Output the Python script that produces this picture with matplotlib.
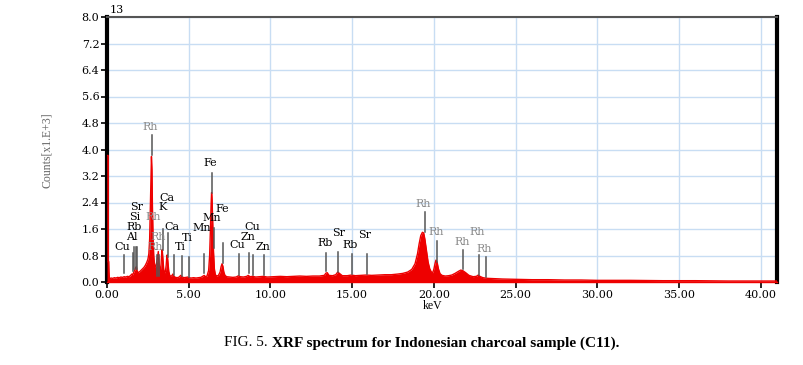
import matplotlib
matplotlib.use("Agg")
import matplotlib.pyplot as plt
import numpy as np

# ---------------- data ----------------
energy_kev = [0.00, 0.07, 0.08, 0.10, 0.12, 0.14, 0.18, 0.25, 0.35, 0.45, 0.55, 0.65, 0.75, 0.85,
              0.95, 1.05, 1.15, 1.25, 1.35, 1.45, 1.52, 1.58, 1.64, 1.70, 1.76, 1.80, 1.84, 1.90,
              1.96, 2.02, 2.10, 2.18, 2.26, 2.34, 2.42, 2.50, 2.56, 2.61, 2.65, 2.69, 2.72, 2.75,
              2.78, 2.82, 2.86, 2.90, 2.95, 3.00, 3.05, 3.10, 3.14, 3.18, 3.22, 3.27, 3.31, 3.35,
              3.38, 3.42, 3.47, 3.52, 3.57, 3.62, 3.66, 3.69, 3.73, 3.78, 3.84, 3.92, 3.98, 4.03,
              4.08, 4.18, 4.30, 4.42, 4.51, 4.58, 4.70, 4.85, 4.93, 5.00, 5.15, 5.30, 5.45, 5.60,
              5.75, 5.88, 5.95, 6.02, 6.12, 6.22, 6.28, 6.33, 6.37, 6.40, 6.43, 6.47, 6.52, 6.57,
              6.63, 6.72, 6.82, 6.92, 6.98, 7.04, 7.09, 7.15, 7.22, 7.32, 7.50, 7.70, 7.90, 8.05,
              8.15, 8.35, 8.55, 8.64, 8.75, 8.92, 9.10, 9.35, 9.57, 9.80, 10.2, 10.6, 11.0, 11.4,
              11.8, 12.2, 12.6, 13.0, 13.3, 13.40, 13.48, 13.58, 13.8, 14.0, 14.12, 14.22, 14.4,
              14.7, 14.95, 15.2, 15.5, 15.85, 16.2, 16.6, 17.0, 17.4, 17.8, 18.1, 18.4, 18.65,
              18.85, 19.0, 19.1, 19.2, 19.3, 19.38, 19.45, 19.55, 19.65, 19.75, 19.85, 19.93,
              20.0, 20.07, 20.13, 20.2, 20.28, 20.38, 20.5, 20.7, 20.9, 21.1, 21.3, 21.5, 21.65,
              21.78, 21.95, 22.15, 22.4, 22.6, 22.72, 22.82, 23.0, 23.3, 23.7, 24.2, 25.0, 26.0,
              27.0, 28.0, 29.0, 30.0, 32.0, 34.0, 36.0, 38.0, 40.0, 41.0]
counts_k = [3.82, 3.82, 0.60, 0.62, 0.30, 0.14, 0.10, 0.12, 0.11, 0.13, 0.12, 0.14, 0.13, 0.15,
            0.14, 0.16, 0.15, 0.17, 0.16, 0.20, 0.24, 0.22, 0.30, 0.36, 0.44, 0.46, 0.34, 0.28,
            0.30, 0.32, 0.36, 0.40, 0.44, 0.50, 0.58, 0.68, 0.85, 1.30, 2.20, 3.20, 3.79, 3.40,
            2.30, 1.30, 0.80, 0.55, 0.45, 0.50, 0.62, 0.80, 0.92, 0.60, 0.38, 0.35, 0.55, 0.90,
            0.98, 0.70, 0.38, 0.28, 0.30, 0.50, 0.78, 0.82, 0.60, 0.32, 0.20, 0.17, 0.20, 0.24,
            0.18, 0.14, 0.13, 0.15, 0.20, 0.16, 0.13, 0.14, 0.15, 0.13, 0.12, 0.13, 0.12, 0.13,
            0.14, 0.18, 0.20, 0.16, 0.18, 0.35, 0.80, 1.60, 2.35, 2.70, 2.50, 1.80, 0.90, 0.40,
            0.22, 0.18, 0.20, 0.30, 0.46, 0.55, 0.48, 0.30, 0.20, 0.16, 0.15, 0.14, 0.15, 0.19,
            0.16, 0.15, 0.17, 0.20, 0.16, 0.17, 0.15, 0.16, 0.17, 0.15, 0.16, 0.17, 0.16, 0.17,
            0.18, 0.17, 0.18, 0.18, 0.20, 0.27, 0.28, 0.20, 0.19, 0.22, 0.30, 0.26, 0.19,
            0.19, 0.21, 0.19, 0.20, 0.21, 0.20, 0.21, 0.22, 0.22, 0.24, 0.26, 0.30, 0.38,
            0.55, 0.85, 1.15, 1.40, 1.50, 1.48, 1.30, 0.95, 0.60, 0.40, 0.30, 0.28,
            0.38, 0.55, 0.66, 0.60, 0.40, 0.25, 0.20, 0.18, 0.19, 0.21, 0.26, 0.32, 0.36,
            0.34, 0.28, 0.20, 0.16, 0.17, 0.21, 0.17, 0.13, 0.11, 0.10, 0.09, 0.08, 0.07,
            0.07, 0.06, 0.06, 0.05, 0.05, 0.04, 0.04, 0.03, 0.03, 0.03]

# element marker lines: energy, bottom, top (counts x1000)
marker_energy = [1.04, 1.57, 1.67, 1.75, 1.81, 2.77, 3.03, 3.18, 3.40, 3.75, 4.10, 4.61, 5.01,
                 5.92, 6.43, 6.53, 7.10, 8.10, 8.67, 8.92, 9.63, 13.43, 14.13, 15.02, 15.92,
                 19.47, 20.22, 21.80, 22.77, 23.22]
marker_bottom = [0.27, 0.33, 0.40, 0.40, 0.40, 3.84, 0.18, 0.18, 0.97, 0.76, 0.21, 0.18, 0.15,
                 0.27, 2.69, 1.03, 0.57, 0.21, 0.27, 0.21, 0.21, 0.33, 0.30, 0.24, 0.24,
                 1.51, 0.60, 0.39, 0.21, 0.15]
marker_top = [0.82, 0.88, 1.06, 1.06, 1.06, 4.44, 0.82, 0.82, 1.60, 1.48, 0.82, 0.79, 0.76,
              0.85, 3.29, 1.63, 1.18, 0.85, 0.88, 0.82, 0.82, 0.88, 0.91, 0.85, 0.85,
              2.11, 1.24, 0.97, 0.82, 0.76]

# labels: text, energy, counts
label_text = ["Cu", "Al", "Rb", "Si", "Sr", "Rh", "Rh", "Ca", "K", "Ca", "Rh", "Rh", "Ti", "Ti",
              "Mn", "Mn", "Fe", "Fe", "Cu", "Zn", "Cu", "Zn", "Rb", "Sr", "Rb", "Sr",
              "Rh", "Rh", "Rh", "Rh", "Rh"]
label_x = [0.96, 1.51, 1.65, 1.71, 1.82, 2.81, 2.63, 3.65, 3.41, 3.99, 3.14, 2.94, 4.94, 4.51,
           6.40, 5.79, 6.34, 7.05, 8.87, 8.64, 7.99, 9.56, 13.33, 14.15, 14.86, 15.78,
           19.35, 20.16, 21.73, 22.67, 23.08]
label_y = [1.07, 1.37, 1.67, 1.97, 2.27, 1.97, 4.68, 2.55, 2.27, 1.67, 1.37, 1.07, 1.32, 1.05,
           1.92, 1.62, 3.59, 2.21, 1.67, 1.37, 1.12, 1.07, 1.17, 1.47, 1.12, 1.42,
           2.36, 1.50, 1.22, 1.50, 1.00]

x_ticks = [0, 5, 10, 15, 20, 25, 30, 35, 40]
y_ticks = [0.0, 0.8, 1.6, 2.4, 3.2, 4.0, 4.8, 5.6, 6.4, 7.2, 8.0]

# ---------------- figure ----------------
W, H = 804, 365
fig = plt.figure(figsize=(W / 100, H / 100), dpi=100)
ax = fig.add_axes([107 / W, 1 - 282 / H, (777 - 107) / W, (282 - 17) / H])

red = "#ee0000"
ax.fill_between(energy_kev, 0, counts_k, color=red, linewidth=0, zorder=3)
ax.plot(energy_kev, counts_k, color=red, lw=1.0, zorder=3)

for e, b, t in zip(marker_energy, marker_bottom, marker_top):
    ax.plot([e, e], [b, t], color="#555555", lw=1.1, zorder=4)

for t, x, y in zip(label_text, label_x, label_y):
    col = "#8a8a8a" if t == "Rh" else "black"
    ax.text(x, y, t, color=col, ha="center", va="center", fontsize=8,
            family="DejaVu Serif", zorder=5)

ax.set_xlim(0, 41)
ax.set_ylim(0, 8.0)
ax.set_xticks(x_ticks)
ax.set_xticklabels([f"{v:.2f}" for v in x_ticks])
ax.set_yticks(y_ticks)
ax.set_yticklabels([f"{v:.1f}" for v in y_ticks])
for lab in ax.get_xticklabels() + ax.get_yticklabels():
    lab.set_family("DejaVu Serif")
    lab.set_fontsize(8)
ax.tick_params(axis="both", direction="out", length=4, width=1.2, color="black", pad=1.5)

ax.grid(True, color="#c8ddf3", lw=1.0, zorder=0)
ax.set_axisbelow(True)

ax.spines["left"].set_linewidth(3)
ax.spines["left"].set_color("black")
ax.spines["right"].set_linewidth(3)
ax.spines["right"].set_color("black")
ax.spines["top"].set_linewidth(1.5)
ax.spines["top"].set_color("#555555")
ax.spines["bottom"].set_linewidth(1.0)
ax.spines["bottom"].set_color(red)

fig.text(117 / W, 1 - 10 / H, "13", fontsize=8, family="DejaVu Serif", ha="center", va="center")
fig.text(47 / W, 1 - 150 / H, "Counts[x1.E+3]", rotation=90, fontsize=8.5, color="#666666",
         family="Liberation Serif", ha="center", va="center")
fig.text(433 / W, 1 - 306 / H, "keV", fontsize=8.5, family="Liberation Serif", ha="center",
         va="center")

cy = 1 - 343 / H
fig.text(268 / W, cy, "FIG. 5.", fontsize=11, family="Liberation Serif", ha="right", va="center")
fig.text(272 / W, cy, "XRF spectrum for Indonesian charcoal sample (C11).", fontsize=11,
         family="Liberation Serif", weight="bold", ha="left", va="center")

fig.savefig("out.png", dpi=100)
